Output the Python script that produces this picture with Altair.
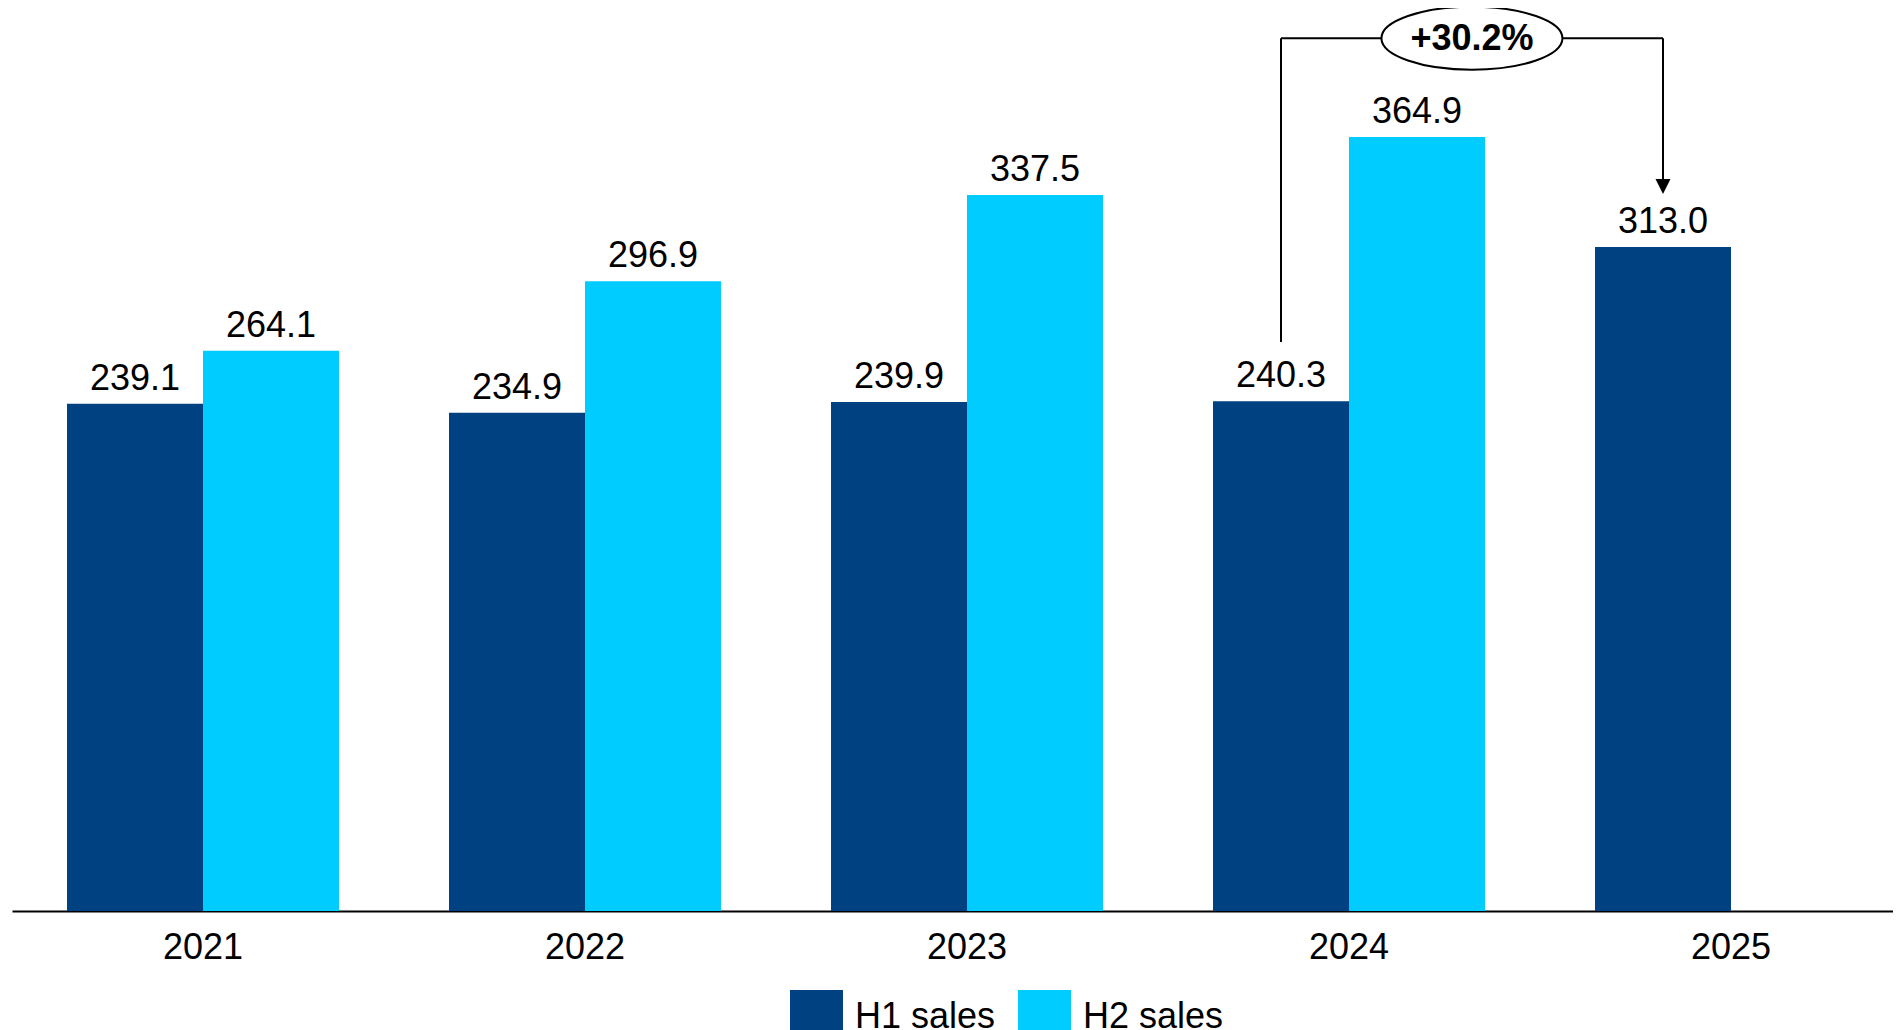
import altair as alt
import pandas as pd

years = ["2021", "2022", "2023", "2024", "2025"]
h1_sales = [239.1, 234.9, 239.9, 240.3, 313.0]
h2_sales = [264.1, 296.9, 337.5, 364.9, None]
series_names = ["H1 sales", "H2 sales"]
series_colors = ["#004182", "#00CCFF"]

growth_label = "+30.2%"
growth_from_year = "2024"
growth_to_year = "2025"

rows = []
for y, a, b in zip(years, h1_sales, h2_sales):
    rows.append({"year": y, "series": series_names[0], "value": a})
    if b is not None:
        rows.append({"year": y, "series": series_names[1], "value": b})
bars_df = pd.DataFrame(rows)

FONT = "Liberation Sans"
bracket_top = 411.4
left_end = 268.2
arrow_tip = 345.0

x_scale = alt.Scale(domain=years, paddingInner=0.288, paddingOuter=0.144, range=[0, 1910])
y_scale = alt.Scale(domain=[0, 420], nice=False)

base = alt.Chart(bars_df)

bars = base.mark_bar().encode(
    x=alt.X("year:N", scale=x_scale, sort=years,
            axis=alt.Axis(title=None, labelAngle=0, ticks=False, labelPadding=19,
                          labelFontSize=36, labelFont=FONT, labelColor="#000000",
                          domainColor="#000000", domainWidth=2)),
    xOffset=alt.XOffset("series:N", sort=series_names),
    y=alt.Y("value:Q", scale=y_scale, axis=None),
    color=alt.Color("series:N", sort=series_names,
                    scale=alt.Scale(domain=series_names, range=series_colors),
                    legend=alt.Legend(title=None, orient="none", direction="horizontal",
                                      legendX=778, legendY=970, symbolType="square",
                                      symbolSize=2809, symbolStrokeWidth=0,
                                      labelFontSize=36, labelFont=FONT, labelColor="#000000",
                                      labelOffset=12, columnPadding=22, padding=0,
                                      symbolOpacity=1)),
)

labels = base.mark_text(fontSize=36, font=FONT, color="#000000", dy=-14, baseline="alphabetic").encode(
    x=alt.X("year:N", scale=x_scale, sort=years),
    xOffset=alt.XOffset("series:N", sort=series_names),
    y=alt.Y("value:Q", scale=y_scale),
    text=alt.Text("value:Q", format=".1f"),
)

seg_df = pd.DataFrame({
    "x1": [growth_from_year, growth_from_year, growth_to_year],
    "x2": [growth_from_year, growth_to_year, growth_to_year],
    "y1": [left_end, bracket_top, bracket_top],
    "y2": [bracket_top, bracket_top, arrow_tip],
})
segments = alt.Chart(seg_df).mark_rule(color="#000000", strokeWidth=2).encode(
    x=alt.X("x1:N", scale=x_scale, sort=years, bandPosition=0.25),
    x2=alt.X2("x2", bandPosition=0.25),
    y=alt.Y("y1:Q", scale=y_scale),
    y2="y2:Q",
)

arrow_df = pd.DataFrame({"x": [growth_to_year], "y": [arrow_tip - 3.5]})
arrow = alt.Chart(arrow_df).mark_point(
    shape="M -1 -1 L 1 -1 L 0 1 Z", size=225, filled=True, color="#000000", opacity=1
).encode(
    x=alt.X("x:N", scale=x_scale, sort=years, bandPosition=0.25),
    y=alt.Y("y:Q", scale=y_scale),
)

oval_df = pd.DataFrame({"x": [growth_from_year], "y": [bracket_top], "label": [growth_label]})
oval = alt.Chart(oval_df).mark_point(
    shape="M -1 0 A 1 0.348 0 1 0 1 0 A 1 0.348 0 1 0 -1 0 Z", size=32761,
    filled=True, fill="#FFFFFF", stroke="#000000", strokeWidth=2, opacity=1, fillOpacity=1
).encode(
    x=alt.X("x:N", scale=x_scale, sort=years, bandPosition=0.952),
    y=alt.Y("y:Q", scale=y_scale),
)
oval_text = alt.Chart(oval_df).mark_text(
    fontSize=36, font=FONT, fontWeight="bold", color="#000000", baseline="middle", dy=1
).encode(
    x=alt.X("x:N", scale=x_scale, sort=years, bandPosition=0.952),
    y=alt.Y("y:Q", scale=y_scale),
    text="label:N",
)

chart = alt.layer(bars, labels, segments, arrow, oval, oval_text).properties(
    width=1881, height=891,
    background="#FFFFFF",
    autosize=alt.AutoSizeParams(type="none"),
    padding={"left": 4, "top": 12, "right": 0, "bottom": 119},
).configure_view(stroke=None)

chart.save("out.html", embed_options={"renderer": "svg", "actions": False})
